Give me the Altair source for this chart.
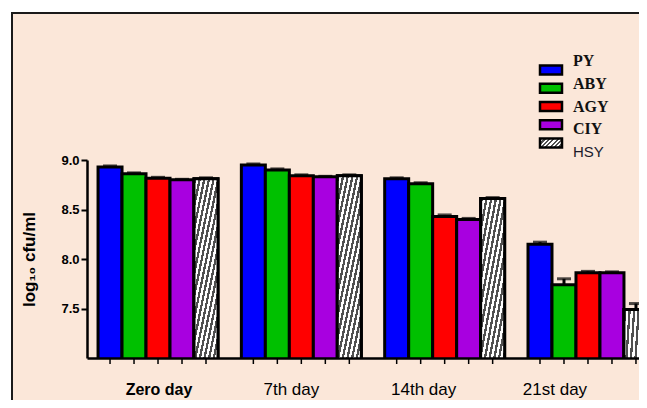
import altair as alt
import pandas as pd

days = ["Zero day", "7th day", "14th day", "21st day"]
series = ["PY", "ABY", "AGY", "CIY", "HSY"]
PY = [8.93, 8.95, 8.81, 8.15]
ABY = [8.86, 8.90, 8.76, 7.74]
AGY = [8.815, 8.84, 8.43, 7.86]
CIY = [8.80, 8.83, 8.40, 7.86]
HSY = [8.81, 8.84, 8.61, 7.49]
PY_err = [0.01, 0.01, 0.01, 0.02]
ABY_err = [0.01, 0.01, 0.01, 0.06]
AGY_err = [0.01, 0.01, 0.015, 0.015]
CIY_err = [0.005, 0.005, 0.01, 0.01]
HSY_err = [0.01, 0.01, 0.01, 0.06]
colors = ["#0000ff", "#00c000", "#ff0000", "#a800e0", "#c8c8c8"]
y_ticks = [7.5, 8.0, 8.5, 9.0]

vals = {"PY": PY, "ABY": ABY, "AGY": AGY, "CIY": CIY, "HSY": HSY}
errs = {"PY": PY_err, "ABY": ABY_err, "AGY": AGY_err, "CIY": CIY_err, "HSY": HSY_err}
rows = []
for s in series:
    for i, d in enumerate(days):
        rows.append({"day": d, "series": s, "value": vals[s][i],
                     "top": vals[s][i] + errs[s][i]})
df = pd.DataFrame(rows)
leg = pd.DataFrame({"series": series})

W, H = 552, 198
PL, PT, PB = 79, 152, 42
YMIN, YMAX = 7.0, 9.0
BAND_W = 24
PEACH = "#fbe7d9"


def hatch(w, h, period=3.3):
    n = max(2, int(round((w + h) / (1.4142 * period))))
    stops = []
    for i in range(n):
        a = i / n
        m = (i + 0.5) / n
        b = (i + 1) / n
        stops += [{"offset": a, "color": "#505050"}, {"offset": m, "color": "#505050"},
                  {"offset": m, "color": "#ffffff"}, {"offset": b, "color": "#ffffff"}]
    den = w * w + h * h
    return {"gradient": "linear", "x1": 0, "y1": 0,
            "x2": (w + h) * w / den, "y2": h * (w + h) / den, "stops": stops}


xenc = alt.X("day:N", sort=days, title=None,
             scale=alt.Scale(range=[0, 572], paddingInner=0.163, paddingOuter=0.077),
             axis=alt.Axis(ticks=False, domainColor="black", domainWidth=2.5, zindex=1,
                           labelPadding=23, labelFont="Liberation Sans", labelColor="black",
                           labelFontSize={"expr": "datum.value == 'Zero day' ? 16 : 17"},
                           labelFontWeight={"expr": "datum.value == 'Zero day' ? 'bold' : 'normal'"},
                           labelOffset={"expr": "datum.value == '7th day' ? -10 : datum.value == '14th day' ? -21 : datum.value == '21st day' ? -33 : 1"},
                           labelAngle=0))
xoff = alt.XOffset("series:N", sort=series, scale=alt.Scale(paddingInner=0, paddingOuter=0))
yscale = alt.Scale(domain=[YMIN, YMAX], zero=False, nice=False)

one = leg.head(1)
# white margin strips and dark frame lines (chart background is peach)
white_left = alt.Chart(one).mark_rect(fill="white").encode(
    x=alt.value(-PL), x2=alt.value(-76), y=alt.value(-PT), y2=alt.value(H + PB))
white_top = alt.Chart(one).mark_rect(fill="white").encode(
    x=alt.value(-PL), x2=alt.value(W), y=alt.value(-PT), y2=alt.value(-148))
line_left = alt.Chart(one).mark_rect(fill="#1a1a1a").encode(
    x=alt.value(-76), x2=alt.value(-74), y=alt.value(-148), y2=alt.value(H + PB))
line_top = alt.Chart(one).mark_rect(fill="#1a1a1a").encode(
    x=alt.value(-76), x2=alt.value(W), y=alt.value(-148), y2=alt.value(-146))

bars = alt.Chart(df).mark_bar(stroke="black", strokeWidth=3, clip=True).encode(
    x=xenc, xOffset=xoff,
    y=alt.Y("value:Q", scale=yscale, title="log₁₀ cfu/ml",
            axis=alt.Axis(values=y_ticks, format=".1f", domainColor="black", domainWidth=2.5,
                          tickColor="black", tickWidth=2, tickSize=6, labelPadding=2, zindex=1,
                          labelFont="Liberation Sans", labelFontWeight="bold", labelFontSize=13,
                          labelColor="black", titleFont="Liberation Sans", titleFontSize=17,
                          titleFontWeight="bold", titleColor="black", titlePadding=22,
                          grid=False)),
    fill=alt.Fill("series:N", scale=alt.Scale(domain=series, range=colors), legend=None))

hatch_layers = []
for i, d in enumerate(days):
    h = (HSY[i] - YMIN) / (YMAX - YMIN) * H
    hatch_layers.append(
        alt.Chart(df).transform_filter(
            (alt.datum.series == "HSY") & (alt.datum.day == d)
        ).mark_bar(stroke="black", strokeWidth=3, fill=hatch(BAND_W, h), clip=True).encode(
            x=alt.X("day:N", sort=days), xOffset=xoff,
            y=alt.Y("value:Q", scale=yscale, axis=None)))

err_rule = alt.Chart(df).mark_rule(color="black", strokeWidth=3).encode(
    x=alt.X("day:N", sort=days), xOffset=xoff,
    y=alt.Y("value:Q", scale=yscale, axis=None), y2="top:Q")
err_cap = alt.Chart(df).mark_tick(color="black", size=14, thickness=3, orient="horizontal").encode(
    x=alt.X("day:N", sort=days), xOffset=xoff,
    y=alt.Y("top:Q", scale=yscale, axis=None))

xticks = alt.Chart(df).mark_rule(color="black", strokeWidth=1.5).encode(
    x=alt.X("day:N", sort=days), xOffset=xoff,
    y=alt.value(H), y2=alt.value(H + 6))

lscale = alt.Scale(domain=series, range=[-99, -8], padding=0)
leg_rect = alt.Chart(leg).transform_filter(alt.datum.series != "HSY").mark_rect(
    height=9, stroke="black", strokeWidth=2.5).encode(
    x=alt.value(453), x2=alt.value(475),
    y=alt.Y("series:N", scale=lscale, axis=None),
    fill=alt.Fill("series:N", scale=alt.Scale(domain=series, range=colors), legend=None))
leg_hatch = alt.Chart(leg).transform_filter(alt.datum.series == "HSY").mark_rect(
    height=9, stroke="black", strokeWidth=2.5, fill=hatch(22, 9, 3.0)).encode(
    x=alt.value(453), x2=alt.value(475),
    y=alt.Y("series:N", scale=lscale, axis=None))
leg_text = alt.Chart(leg).transform_filter(alt.datum.series != "HSY").mark_text(
    align="left", baseline="middle", font="Liberation Serif", fontWeight="bold",
    fontSize=16, color="#111111").encode(
    x=alt.value(486), y=alt.Y("series:N", scale=lscale, axis=None), text="series:N")
leg_text2 = alt.Chart(leg).transform_filter(alt.datum.series == "HSY").mark_text(
    align="left", baseline="middle", font="Liberation Sans",
    fontSize=15, color="#1a1a2a").encode(
    x=alt.value(486), y=alt.Y("series:N", scale=lscale, axis=None), text="series:N")

chart = alt.layer(
    white_left, white_top, line_left, line_top, bars, *hatch_layers, err_rule, err_cap, xticks,
    leg_rect, leg_hatch, leg_text, leg_text2
).resolve_scale(y="independent").properties(
    width=W, height=H,
    autosize=alt.AutoSizeParams(type="none"),
    padding={"left": PL, "top": PT, "right": 0, "bottom": PB},
    background=PEACH,
).configure_view(stroke=None)

chart.save("out.html", embed_options={"renderer": "svg", "actions": False})
